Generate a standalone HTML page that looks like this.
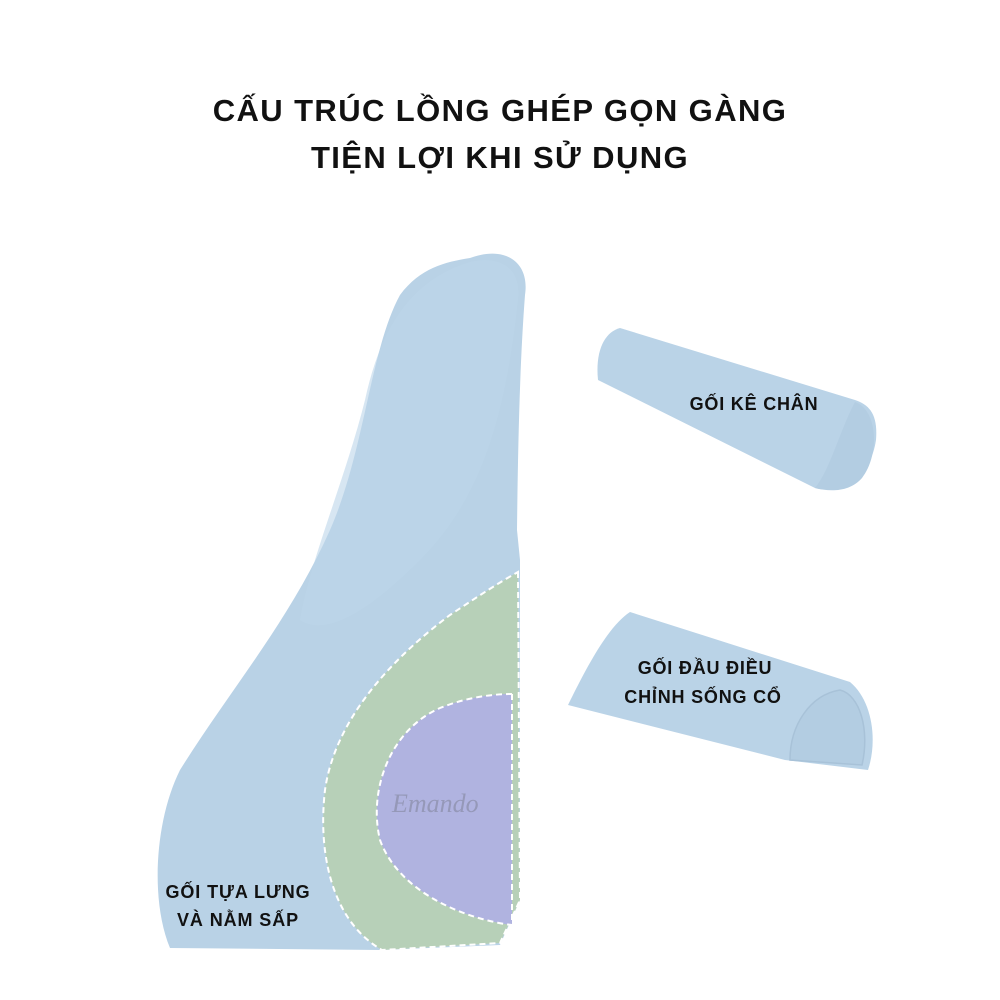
<!DOCTYPE html>
<html><head><meta charset="utf-8"><style>
html,body{margin:0;padding:0;background:#fff;width:1000px;height:1000px;overflow:hidden}
</style></head><body>
<svg width="1000" height="1000" viewBox="0 0 1000 1000" xmlns="http://www.w3.org/2000/svg" font-family="Liberation Sans, sans-serif">
<rect width="1000" height="1000" fill="#fff"/>
<text x="500" y="121" text-anchor="middle" font-size="31" font-weight="bold" fill="#111" letter-spacing="1.4">CẤU TRÚC  LỒNG GHÉP GỌN GÀNG</text>
<text x="500" y="168" text-anchor="middle" font-size="31" font-weight="bold" fill="#111" letter-spacing="1.4">TIỆN LỢI KHI SỬ DỤNG</text>

<!-- main pillow -->
<path d="M470 258 C505 245 530 262 525 295 C520 360 518 440 517 530 L520 560 L520 900 L500 945 L380 950 L170 948 C150 900 155 820 180 770 C230 690 290 620 330 530 C365 450 370 350 400 295 C420 268 445 262 470 258 Z" fill="#b9d2e6"/>
<path d="M470 262 C500 255 522 268 518 300 C505 420 480 500 420 560 C380 600 330 640 300 620 C310 560 345 480 365 400 C380 330 410 280 470 262 Z" fill="#bcd5e9" opacity="0.6"/>
<!-- green crescent -->
<path d="M518 572 L520 900 L500 943 L382 950 C330 920 318 850 325 790 C335 720 390 660 450 615 C480 595 500 582 518 572 Z" fill="#b7d0b8" stroke="#fff" stroke-width="2" stroke-dasharray="6 4"/>
<!-- purple -->
<path d="M512 694 L512 925 C470 920 400 895 380 840 C368 790 390 730 440 708 C465 698 490 694 512 694 Z" fill="#b0b3e0" stroke="#fff" stroke-width="2" stroke-dasharray="6 4"/>
<text x="392" y="812" font-family="Liberation Serif, serif" font-style="italic" font-size="26" fill="#9598b8">Emando</text>

<text x="238" y="898" text-anchor="middle" font-size="18" font-weight="bold" fill="#111" letter-spacing="0.9">GỐI TỰA LƯNG</text>
<text x="238" y="926" text-anchor="middle" font-size="18" font-weight="bold" fill="#111" letter-spacing="0.9">VÀ NẰM SẤP</text>

<!-- top right pillow -->
<path d="M620 328 C605 332 595 350 598 380 L815 488 C840 495 870 480 876 440 C878 415 870 405 855 400 Z" fill="#bad3e7"/>
<path d="M855 402 C878 410 880 455 862 478 C850 492 830 492 815 488 C830 470 840 430 855 402 Z" fill="#b3cde2"/>
<text x="754" y="410" text-anchor="middle" font-size="18" font-weight="bold" fill="#111" letter-spacing="0.8">GỐI KÊ CHÂN</text>

<!-- bottom right pillow -->
<path d="M630 612 C610 625 590 660 568 705 L785 760 L868 770 C878 740 872 700 850 682 Z" fill="#bad3e7"/>
<path d="M790 760 C790 725 810 695 840 690 C860 695 870 730 862 765 Z" fill="#b3cde2" stroke="#a8c2d8" stroke-width="1.5"/>
<text x="705" y="674" text-anchor="middle" font-size="18" font-weight="bold" fill="#111" letter-spacing="0.8">GỐI ĐẦU ĐIỀU</text>
<text x="703" y="703" text-anchor="middle" font-size="18" font-weight="bold" fill="#111" letter-spacing="0.8">CHỈNH SỐNG CỔ</text>
</svg>
</body></html>
